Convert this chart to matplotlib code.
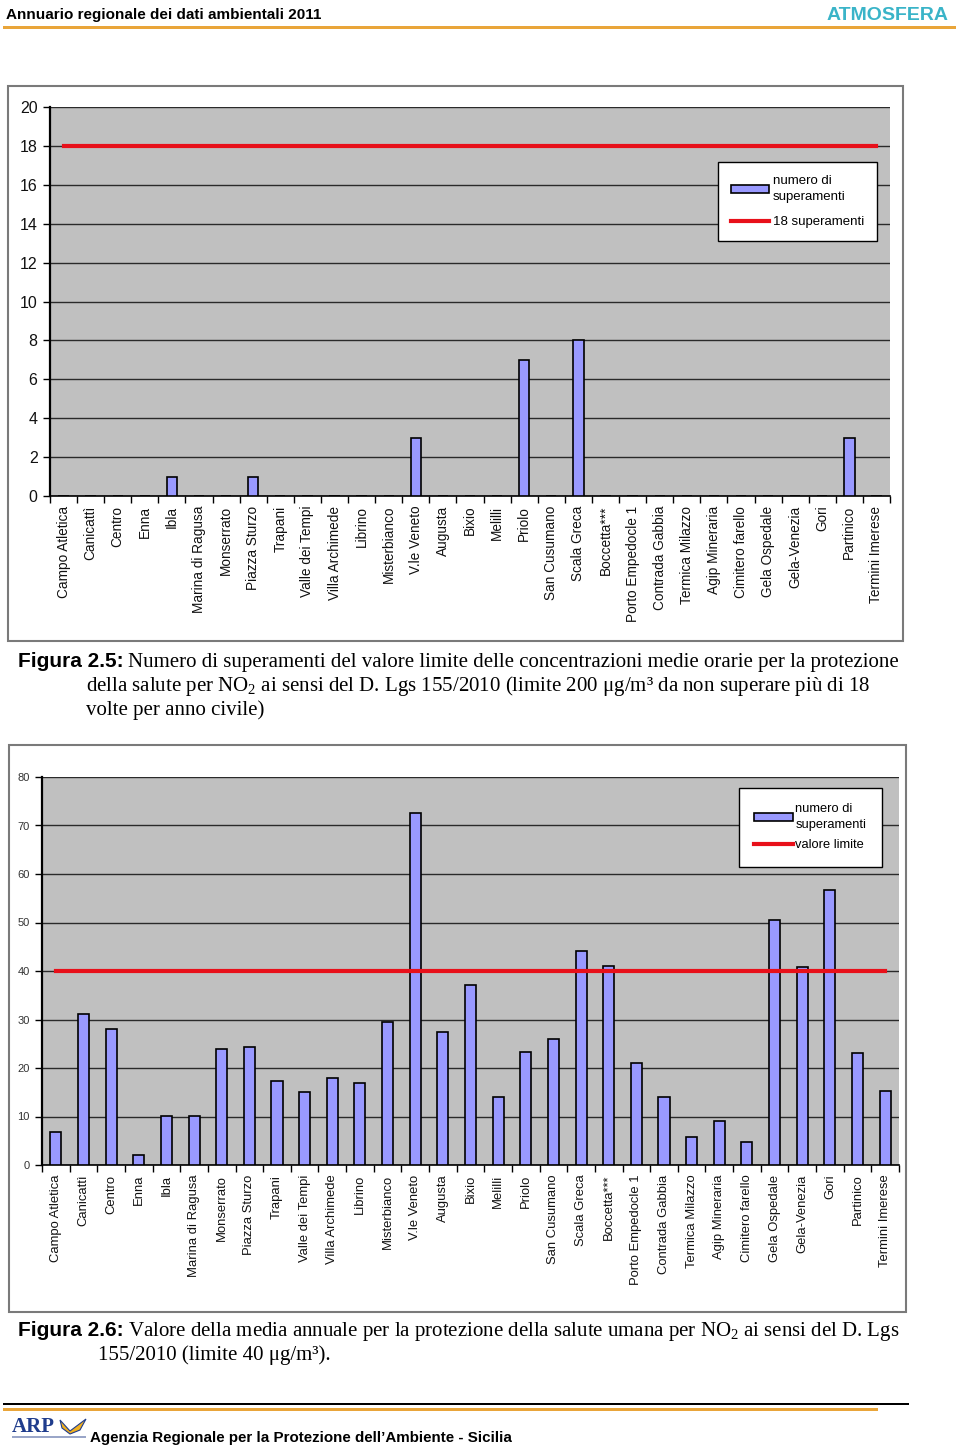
import numpy as np
import matplotlib
matplotlib.use('Agg')
import matplotlib.pyplot as plt
from matplotlib.patches import Rectangle, Patch, Polygon
from matplotlib.lines import Line2D

# ---------------- data ----------------
stations = ["Campo Atletica", "Canicattì", "Centro", "Enna", "Ibla",
            "Marina di Ragusa", "Monserrato", "Piazza Sturzo", "Trapani",
            "Valle dei Tempi", "Villa Archimede", "Librino", "Misterbianco",
            "V.le Veneto", "Augusta", "Bixio", "Melilli", "Priolo",
            "San Cusumano", "Scala Greca", "Boccetta***", "Porto Empedocle 1",
            "Contrada Gabbia", "Termica Milazzo", "Agip Mineraria",
            "Cimitero farello", "Gela Ospedale", "Gela-Venezia", "Gori",
            "Partinico", "Termini Imerese"]

exceedances = [0, 0, 0, 0, 1, 0, 0, 1, 0, 0, 0, 0, 0, 3, 0, 0, 0, 7, 0, 8,
               0, 0, 0, 0, 0, 0, 0, 0, 0, 3, 0]
exceed_limit = 18

annual_mean = [6.9, 31.1, 28.0, 2.1, 10.2, 10.2, 24.0, 24.4, 17.3, 15.0, 17.9,
               16.9, 29.5, 72.6, 27.4, 37.2, 14.1, 23.4, 26.0, 44.2, 41.0,
               21.0, 14.1, 5.8, 9.0, 4.7, 50.5, 40.8, 56.8, 23.1, 15.2]
mean_limit = 40

legend1_labels = ["numero di\nsuperamenti", "18 superamenti"]
legend2_labels = ["numero di\nsuperamenti", "valore limite"]

# ---------------- figure ----------------
plt.rcParams['font.family'] = ['Liberation Sans', 'DejaVu Sans']
plt.rcParams['mathtext.fontset'] = 'custom'
plt.rcParams['mathtext.rm'] = 'Liberation Serif'
plt.rcParams['mathtext.it'] = 'Liberation Serif:italic'

W, H = 960, 1446
fig = plt.figure(figsize=(W / 100, H / 100), dpi=100)
fig.patch.set_facecolor('white')


def fx(x):
    return x / W


def fy(y):
    return 1 - y / H


def rect_px(x0, y0, x1, y1, zorder=-5, **kw):
    r = Rectangle((fx(x0), fy(y1)), fx(x1) - fx(x0), fy(y0) - fy(y1),
                  transform=fig.transFigure, zorder=zorder, **kw)
    fig.add_artist(r)
    return r


def axes_px(x0, y0, x1, y1):
    return fig.add_axes([fx(x0), fy(y1), fx(x1) - fx(x0), fy(y0) - fy(y1)])


BAR = '#9999ff'
GRAY = '#c0c0c0'

# header
fig.text(fx(6), fy(19), "Annuario regionale dei dati ambientali 2011",
         fontsize=11, fontweight='bold', ha='left', va='baseline')
fig.text(fx(949), fy(20), "ATMOSFERA", fontsize=14, fontweight='bold',
         color='#3ab4c8', ha='right', va='baseline')
rect_px(3, 26, 956, 29, facecolor='#e9a53a', edgecolor='none')

# footer
rect_px(3, 1403, 909, 1405, facecolor='black', edgecolor='none')
rect_px(3, 1408, 878, 1411, facecolor='#e9a53a', edgecolor='none')
fig.text(fx(12), fy(1432), "ARP", fontsize=15, fontweight='bold',
         family='Liberation Serif', color='#1f3c8c', ha='left', va='baseline')
logo = Polygon([[fx(60), fy(1420)], [fx(70), fy(1431)], [fx(86), fy(1419)],
                [fx(80), fy(1430)], [fx(70), fy(1434)], [fx(62), fy(1428)]],
               closed=True, transform=fig.transFigure, facecolor='#f0b020',
               edgecolor='#1f3c8c', linewidth=0.8)
fig.add_artist(logo)
rect_px(12, 1436, 86, 1438, zorder=2, facecolor='#9aa6c8', edgecolor='none')
fig.text(fx(90), fy(1442), "Agenzia Regionale per la Protezione dell\u2019Ambiente - Sicilia",
         fontsize=10.9, fontweight='bold', ha='left', va='baseline')


def style_axes(ax, n, ymax, ystep, ylabsize, ylabcolor, xlabsize):
    ax.set_facecolor(GRAY)
    ax.set_xlim(-0.5, n - 0.5)
    ax.set_ylim(0, ymax)
    ax.set_yticks(np.arange(0, ymax + 0.01, ystep))
    ax.yaxis.grid(True, color='#2a2a2a', linewidth=1.0)
    ax.set_axisbelow(True)
    for s in ['top', 'right']:
        ax.spines[s].set_visible(False)
    ax.spines['left'].set_linewidth(1.6)
    ax.spines['bottom'].set_linewidth(1.2)
    ax.set_xticks(np.arange(n))
    ax.set_xticklabels(stations, rotation=90, fontsize=xlabsize, va='top',
                       ha='center', color='#111111')
    ax.set_xticks(np.arange(-0.5, n, 1), minor=True)
    ax.tick_params(axis='x', which='major', length=0, pad=7)
    ax.tick_params(axis='x', which='minor', length=5, width=1, direction='out')
    ax.tick_params(axis='y', length=5, width=1, direction='out',
                   labelsize=ylabsize, labelcolor=ylabcolor, pad=4)


# ---------------- chart 1 ----------------
rect_px(8, 86, 903, 641, facecolor='white', edgecolor='#7a7a7a', linewidth=1.5)
ax1 = axes_px(50, 107, 890, 496)
n = len(stations)
x = np.arange(n)
style_axes(ax1, n, 20, 2, 11.5, '#111111', 9.8)
ax1.bar(x, exceedances, width=0.38, color=BAR, edgecolor='black',
        linewidth=1.2, zorder=3)
ax1.plot(x, [exceed_limit] * n, color='#e8101a', linewidth=3, zorder=4)
h1 = [Patch(facecolor=BAR, edgecolor='black', linewidth=1.2),
      Line2D([0], [0], color='#e8101a', linewidth=3)]
leg1 = ax1.legend(h1, legend1_labels, loc='upper right',
                  bbox_to_anchor=(0.985, 0.859), fontsize=9.5, frameon=True,
                  fancybox=False, edgecolor='black', framealpha=1,
                  handlelength=2.9, handleheight=0.6, handletextpad=0.3,
                  borderpad=1.0, labelspacing=1.0, borderaxespad=0)
for t in leg1.get_texts():
    t.set_linespacing(1.45)
leg1.get_frame().set_linewidth(1.0)
leg1.set_zorder(10)

# caption 1
renderer = fig.canvas.get_renderer()


def caption_line(x_px, base_px, bold, rest, bsize=15, rsize=15):
    xpos = x_px
    if bold:
        t = fig.text(fx(xpos), fy(base_px), bold, fontsize=bsize,
                     fontweight='bold', ha='left', va='baseline')
        bb = t.get_window_extent(renderer)
        xpos = xpos + bb.width + 4
    fig.text(fx(xpos), fy(base_px), rest, fontsize=rsize,
             family='Liberation Serif', ha='left', va='baseline')


caption_line(18, 667, "Figura 2.5:",
             "Numero di superamenti del valore limite delle concentrazioni medie orarie per la protezione")
caption_line(86, 691, None,
             "della salute per NO$_2$ ai sensi del D. Lgs 155/2010 (limite 200 \u03bcg/m\u00b3 da non superare più di 18")
caption_line(86, 715, None, "volte per anno civile)")

# ---------------- chart 2 ----------------
rect_px(9, 745, 906, 1312, facecolor='white', edgecolor='#7a7a7a', linewidth=1.5)
ax2 = axes_px(42, 777, 899, 1165)
style_axes(ax2, n, 80, 10, 8, '#333333', 9.4)
ax2.bar(x, annual_mean, width=0.40, color=BAR, edgecolor='black',
        linewidth=1.2, zorder=3)
ax2.plot(x, [mean_limit] * n, color='#e8101a', linewidth=3, zorder=4)
h2 = [Patch(facecolor=BAR, edgecolor='black', linewidth=1.2),
      Line2D([0], [0], color='#e8101a', linewidth=3)]
leg2 = ax2.legend(h2, legend2_labels, loc='upper right',
                  bbox_to_anchor=(0.980, 0.972), fontsize=9.3, frameon=True,
                  fancybox=False, edgecolor='black', framealpha=1,
                  handlelength=3.0, handleheight=0.6, handletextpad=0.2,
                  borderpad=1.2, labelspacing=0.6, borderaxespad=0)
for t in leg2.get_texts():
    t.set_linespacing(1.45)
leg2.get_frame().set_linewidth(1.0)
leg2.set_zorder(10)

caption_line(18, 1336, "Figura 2.6:",
             "Valore della media annuale per la protezione della salute umana per NO$_2$ ai sensi del D. Lgs")
caption_line(98, 1360, None, "155/2010 (limite 40 \u03bcg/m\u00b3).")

fig.savefig('out.png', dpi=100, facecolor='white')
